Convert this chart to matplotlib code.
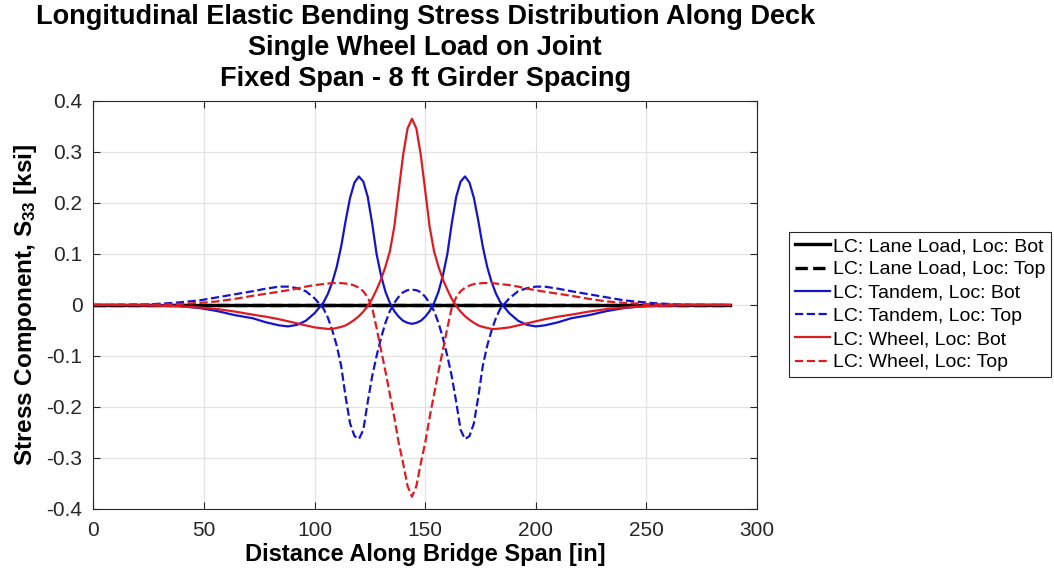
import numpy as np
import matplotlib
matplotlib.use("Agg")
import matplotlib.pyplot as plt

plt.rcParams['font.family'] = ['Liberation Sans', 'DejaVu Sans']
plt.rcParams['mathtext.fontset'] = 'custom'
plt.rcParams['mathtext.rm'] = 'Liberation Sans:bold'
plt.rcParams['mathtext.it'] = 'Liberation Sans:bold'
plt.rcParams['mathtext.default'] = 'rm'

# distance along span [in]
x = [0, 12, 24, 36, 48, 56, 64, 72, 78, 84, 88, 92, 96, 100, 104, 106, 108, 110,
     112, 114, 116, 118, 120, 122, 124, 126, 128, 130, 132, 134, 136, 138, 140, 142,
     144, 146, 148, 150, 152, 154, 156, 158, 160, 162, 164, 166, 168, 170, 172, 174,
     176, 178, 180, 182, 184, 188, 192, 196, 200, 204, 210, 216, 224, 232, 240, 252,
     264, 276, 288]

lane_bot = [0.0] * len(x)
lane_top = [0.0] * len(x)

tandem_bot = [0.0, 0.0, -0.0003, -0.001, -0.006, -0.012, -0.020, -0.026, -0.034, -0.040,
              -0.042, -0.039, -0.031, -0.016, 0.005, 0.022, 0.045, 0.075,
              0.115, 0.165, 0.210, 0.240, 0.252, 0.242, 0.212, 0.160, 0.100, 0.058,
              0.026, 0.004, -0.012, -0.023, -0.031, -0.035,
              -0.037,
              -0.035, -0.031, -0.023, -0.012, 0.004, 0.026, 0.058, 0.100, 0.160,
              0.212, 0.242, 0.252, 0.240, 0.210, 0.165, 0.115, 0.075, 0.045, 0.022,
              0.005, -0.016, -0.031, -0.039, -0.042, -0.040, -0.034, -0.026, -0.020,
              -0.012, -0.006, -0.001, -0.0003, 0.0, 0.0]

tandem_top = [0.0, 0.0003, 0.001, 0.004, 0.009, 0.015, 0.021, 0.027, 0.032, 0.036,
              0.036, 0.033, 0.027, 0.013, -0.007, -0.025, -0.050, -0.080,
              -0.120, -0.180, -0.232, -0.257, -0.263, -0.245, -0.190, -0.140, -0.100,
              -0.065, -0.035, -0.012, 0.004, 0.016, 0.025, 0.029,
              0.030,
              0.029, 0.025, 0.016, 0.004, -0.012, -0.035, -0.065, -0.100, -0.140,
              -0.190, -0.245, -0.263, -0.257, -0.232, -0.180, -0.120, -0.080, -0.050,
              -0.025, -0.007, 0.013, 0.027, 0.033, 0.036, 0.036, 0.032, 0.027, 0.021,
              0.015, 0.009, 0.004, 0.001, 0.0003, 0.0]

wheel_bot = [0.0, -0.0002, -0.0008, -0.002, -0.005, -0.008, -0.013, -0.019, -0.023,
             -0.028, -0.032, -0.036, -0.040, -0.044, -0.046, -0.047, -0.047, -0.045,
             -0.043, -0.040, -0.035, -0.029, -0.022, -0.013, -0.002, 0.012, 0.030,
             0.050, 0.075, 0.105, 0.153, 0.224, 0.294, 0.346,
             0.365,
             0.346, 0.294, 0.224, 0.153, 0.105, 0.075, 0.050, 0.030, 0.012, -0.002,
             -0.013, -0.022, -0.029, -0.035, -0.040, -0.043, -0.045, -0.047, -0.047,
             -0.046, -0.044, -0.040, -0.036, -0.032, -0.028, -0.023, -0.019, -0.013,
             -0.008, -0.005, -0.002, -0.0008, -0.0002, 0.0]

wheel_top = [0.0, 0.0001, 0.0005, 0.0015, 0.004, 0.007, 0.012, 0.018, 0.022, 0.026,
             0.029, 0.032, 0.036, 0.039, 0.041, 0.042, 0.043, 0.043, 0.043, 0.042,
             0.041, 0.038, 0.034, 0.027, 0.015, -0.005, -0.045, -0.088, -0.130,
             -0.175, -0.220, -0.270, -0.310, -0.355,
             -0.376,
             -0.355, -0.310, -0.270, -0.220, -0.175, -0.130, -0.088, -0.045, -0.005,
             0.015, 0.027, 0.034, 0.038, 0.041, 0.042, 0.043, 0.043, 0.043, 0.042,
             0.041, 0.039, 0.036, 0.032, 0.029, 0.026, 0.022, 0.018, 0.012, 0.007,
             0.004, 0.0015, 0.0005, 0.0001, 0.0]

labels = ["LC: Lane Load, Loc: Bot", "LC: Lane Load, Loc: Top",
          "LC: Tandem, Loc: Bot", "LC: Tandem, Loc: Top",
          "LC: Wheel, Loc: Bot", "LC: Wheel, Loc: Top"]

title_lines = ["Longitudinal Elastic Bending Stress Distribution Along Deck",
               "Single Wheel Load on Joint",
               "Fixed Span - 8 ft Girder Spacing"]

blue = "#1414cc"
red = "#dd1c22"

fig = plt.figure(figsize=(10.54, 5.75), dpi=100)
ax = fig.add_axes([0.0887, 0.1148, 0.6295, 0.7096])

lw = 1.6
ax.plot(x, lane_bot, color="black", lw=2.4, ls="-", label=labels[0])
ax.plot(x, lane_top, color="black", lw=2.4, ls="--", label=labels[1])
ax.plot(x, tandem_bot, color=blue, lw=lw, ls="-", label=labels[2])
ax.plot(x, tandem_top, color=blue, lw=lw, ls="--", label=labels[3])
ax.plot(x, wheel_bot, color=red, lw=lw, ls="-", label=labels[4])
ax.plot(x, wheel_top, color=red, lw=lw, ls="--", label=labels[5])

ax.set_xlim(0, 300)
ax.set_ylim(-0.4, 0.4)
ax.set_xticks(np.arange(0, 301, 50))
ax.set_yticks(np.arange(-0.4, 0.41, 0.1))
ax.set_yticklabels(["-0.4", "-0.3", "-0.2", "-0.1", "0", "0.1", "0.2", "0.3", "0.4"])
ax.grid(True, color="#e3e3e3", lw=0.9)
ax.set_axisbelow(True)
ax.tick_params(direction="in", length=5, width=0.8, labelsize=15, colors="#262626",
               top=True, right=True)
ax.tick_params(axis="x", pad=9)
ax.tick_params(axis="y", pad=8)
for s in ax.spines.values():
    s.set_color("#262626")
    s.set_linewidth(0.8)

ax.set_xlabel("Distance Along Bridge Span [in]", fontsize=17, fontweight="bold", labelpad=2)
ax.set_ylabel("Stress Component, S$_{33}$ [ksi]", fontsize=17.5, fontweight="bold", labelpad=5)

# three title lines, centred over the axes
cx = 0.0887 + 0.6295 / 2
for line, ypix in zip(title_lines, [17, 48, 79]):
    fig.text(cx, 1 - ypix / 575, line, ha="center", va="center",
             fontsize=19.5, fontweight="bold")

leg = fig.legend(loc="center left", bbox_to_anchor=(789 / 1054, 1 - 304.5 / 575),
                 fontsize=14, handlelength=1.8, handletextpad=0.15, labelspacing=0.29,
                 borderpad=0.3, borderaxespad=0, fancybox=False, framealpha=1)
leg.get_frame().set_edgecolor("#262626")
leg.get_frame().set_linewidth(0.8)

fig.savefig("out.png", dpi=100)
